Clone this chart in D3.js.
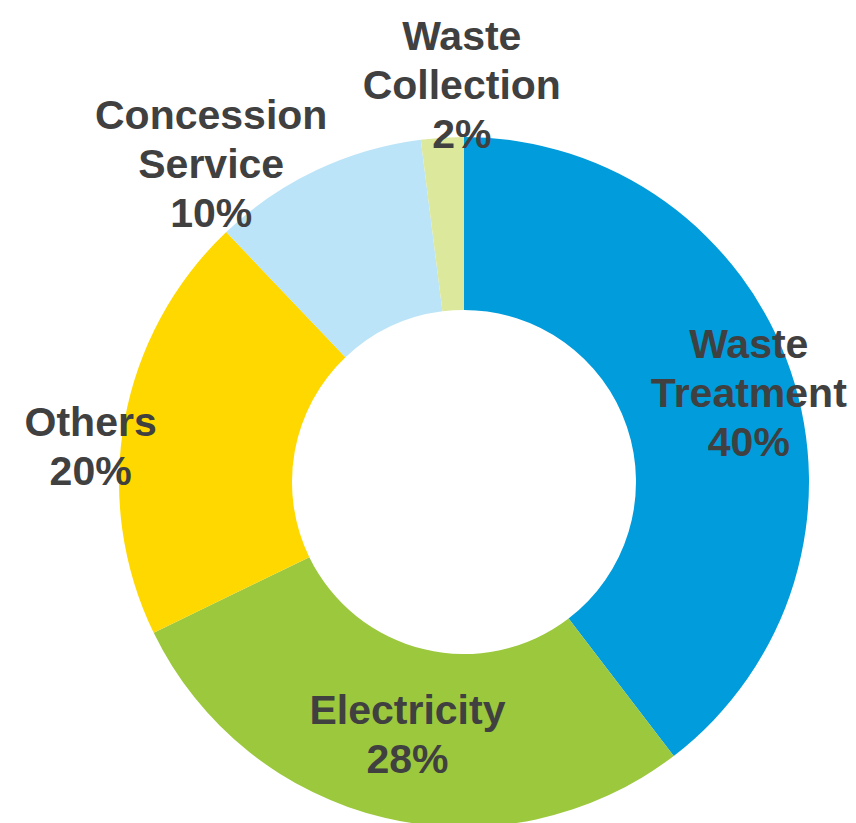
<!DOCTYPE html>
<html>
<head>
<meta charset="utf-8">
<script src="https://cdn.jsdelivr.net/npm/d3@7"></script>
<style>
    body { margin: 0; background: #fff; }
    svg { display: block; }
</style>
</head>
<body>
<div id="chart"></div>
<script>
// data, clockwise from 12 o'clock
// (slice angles say Waste Treatment is a bit under 40, labels are rounded)
var categories = ["Waste Treatment", "Electricity", "Others", "Concession Service", "Waste Collection"];
var values = [39.6, 28.2, 20.1, 10.1, 2.0];
var labelLines = [["Waste", "Treatment"], ["Electricity"], ["Others"], ["Concession", "Service"], ["Waste", "Collection"]];
var colors = ["#009cdb", "#9bc83c", "#ffd800", "#bbe4f8", "#dce89c"];
// label nudges away from the arc centroid (px)
var labelOffsets = [[40, -7], [3, 0], [-119, 10], [-142, -85], [14, -140]];

function makeChart() {
    var width = 856,
        height = 823,
        cx = 464,
        cy = 482,
        outerR = 345,
        innerR = 172,
        lineH = 49,
        capH = 29;

    var svg = d3
        .select("#chart")
        .append("svg")
        .attr("width", width)
        .attr("height", height);

    var g = svg.append("g").attr("transform", "translate(" + cx + "," + cy + ")");

    var data = categories.map((c, i) => ({ name: c, value: values[i], lines: labelLines[i], i: i }));

    var pie = d3.pie().sort(null).value((d) => d.value);
    var arc = d3.arc().innerRadius(innerR).outerRadius(outerR);
    var color = d3.scaleOrdinal().domain(categories).range(colors);
    var pct = d3.format(".0f");

    var arcs = pie(data);

    g.selectAll(".slice")
        .data(arcs)
        .enter()
        .append("path")
        .attr("class", "slice")
        .attr("d", arc)
        .attr("fill", (d) => color(d.data.name));

    var labels = g
        .selectAll(".label")
        .data(arcs)
        .enter()
        .append("text")
        .attr("class", "label")
        .attr("text-anchor", "middle")
        .style("font-family", "'Liberation Sans', Arial, sans-serif")
        .style("font-weight", "bold")
        .style("font-size", "41px")
        .style("fill", "#404040");

    labels.each(function (d) {
        var c = arc.centroid(d);
        var off = labelOffsets[d.data.i];
        var x = c[0] + off[0];
        var lines = d.data.lines.concat([pct(d.data.value) + "%"]);
        var first = c[1] + off[1] + capH / 2 - ((lines.length - 1) * lineH) / 2;
        var t = d3.select(this);
        lines.forEach((s, k) => {
            t.append("tspan")
                .attr("x", x)
                .attr("y", first + k * lineH)
                .text(s);
        });
    });
}

makeChart();
</script>
</body>
</html>
